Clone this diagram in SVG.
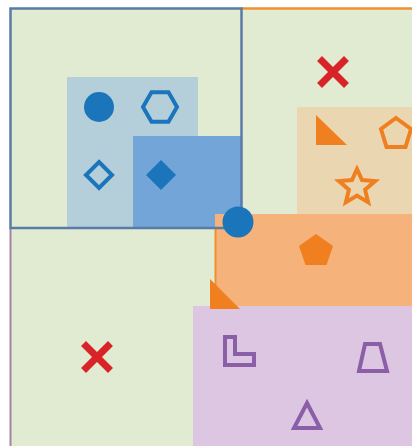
<svg xmlns="http://www.w3.org/2000/svg" width="412" height="446" viewBox="0 0 412 446">
<style>
.bf{fill:#1b75bb}
.bo{fill:none;stroke:#1b75bb;stroke-width:4}
.of{fill:#f0801f}
.oo{fill:none;stroke:#f0801f;stroke-width:4}
.po{fill:none;stroke:#8b5ea8;stroke-width:4}
.x{stroke:#d82429;stroke-width:7;stroke-linecap:square}
</style>
<rect width="412" height="446" fill="#ffffff"/>
<g id="regions">
<rect x="10" y="8" width="402" height="438" fill="#e0ebd2"/>
<rect x="297" y="107" width="115" height="108" fill="#ead7b2"/>
<rect x="67" y="77" width="131" height="151" fill="#b4cfda"/>
<rect x="133" y="136" width="108" height="92" fill="#74a5d8"/>
<rect x="215" y="214" width="197" height="92" fill="#f5b27a"/>
<rect x="193" y="306" width="219" height="140" fill="#ddc6e2"/>
</g>
<g id="borders" fill="none">
<line x1="241" y1="8.5" x2="412" y2="8.5" stroke="#f0902f" stroke-width="2.5"/>
<line x1="215.5" y1="228" x2="215.5" y2="290" stroke="#f0902f" stroke-width="2"/>
<line x1="10.5" y1="228" x2="10.5" y2="446" stroke="#a882a4" stroke-width="2"/>
<rect x="10.5" y="8.5" width="231" height="219.5" stroke="#5a7ba8" stroke-width="2.5"/>
</g>
<g id="blue-shapes">
<circle cx="99" cy="107" r="15" class="bf"/>
<polygon points="177,107 168.5,121.7 151.5,121.7 143,107 151.5,92.3 168.5,92.3" class="bo"/>
<polygon points="99,162 112,175 99,188 86,175" class="bo"/>
<polygon points="161,160 176,175 161,190 146,175" class="bf"/>
<circle cx="238" cy="222" r="15.5" class="bf"/>
</g>
<g id="orange-shapes">
<polygon points="316,115 316,145 347,145" class="of"/>
<polygon points="396,118 411,129 405.5,147 386.5,147 381,129" class="oo"/>
<polygon points="357,169 362,180.1 375.07,181.13 365.08,189.63 368.17,202.37 357,195.5 345.83,202.37 348.92,189.63 338.93,181.13 352,180.1" class="oo"/>
<polygon points="316,234 333,246 326.5,265 305.5,265 299,246" class="of"/>
<polygon points="210,279 210,309 240,309" class="of"/>
</g>
<g id="purple-shapes">
<polygon points="225,337 235,337 235,354 254,354 254,365 225,365" class="po"/>
<polygon points="365,344 380,344 387,371 359,371" class="po"/>
<polygon points="307,403 320,428 294,428" class="po"/>
</g>
<g id="marks">
<path d="M322,61 L344,83 M344,61 L322,83" class="x"/>
<path d="M86,346 L108,368 M108,346 L86,368" class="x"/>
</g>
</svg>
